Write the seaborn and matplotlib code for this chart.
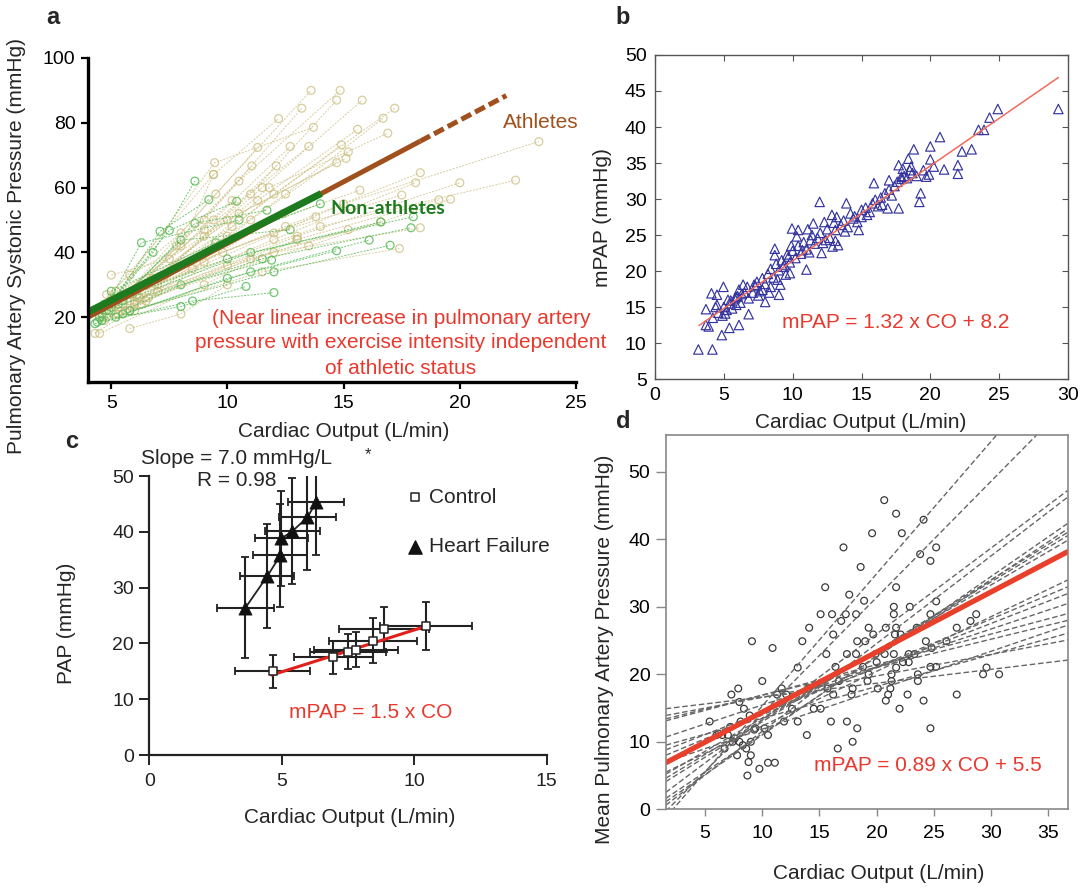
import numpy as np
import pandas as pd
import matplotlib
matplotlib.use("Agg")
import matplotlib.pyplot as plt
import seaborn as sns

sns.set_theme(style="ticks")
plt.rcParams['font.family'] = ['Liberation Sans', 'DejaVu Sans']
plt.rcParams['axes.unicode_minus'] = False

# ---------------------------------------------------------------- panel a data
# individual subjects: cardiac output (L/min) and PA systolic pressure (mmHg)
ath_co = [
    [5.0, 9.5, 13.6], [5.5, 10.5, 14.85], [5.2, 11.0, 14.7], [5.8, 11.5, 15.8],
    [4.8, 9.0, 13.2], [6.0, 12.0, 17.2], [4.5, 9.4, 12.2], [6.2, 12.5, 16.7],
    [5.0, 9.45, 13.7], [5.8, 11.3, 15.6], [6.5, 11.8, 16.9], [7.0, 15.0, 23.4],
    [4.6, 9.4, 12.7], [5.3, 9.0, 13.5], [4.8, 8.0, 11.3], [5.9, 10.2, 14.9],
    [6.3, 11.0, 15.2], [5.1, 7.8, 11.05], [5.6, 9.0, 12.1], [5.0, 10.0, 14.7],
    [5.7, 10.5, 15.1], [6.0, 14.0, 22.4], [6.0, 13.0, 20.0], [5.5, 12.0, 18.1],
    [6.4, 12.5, 18.3], [5.2, 10.0, 15.7], [6.8, 12.0, 17.5], [7.0, 13.0, 19.1],
    [6.6, 13.5, 19.6], [6.2, 12.0, 18.3], [5.4, 11.0, 16.6], [5.3, 10.0, 15.2],
    [6.0, 11.5, 17.4], [4.5, 9.0, 13.0], [5.8, 8.0, 9.4], [4.3, 6.5, 9.0],
    [5.8, 8.0, 10.0], [5.0, 7.5, 10.2], [4.7, 8.5, 12.4], [6.1, 9.8, 13.8],
]
ath_pap = [
    [22, 58, 90], [24, 62, 90], [21, 58, 87], [25, 60, 87],
    [20, 50, 84.5], [24, 58, 84.5], [23, 64, 81.3], [26, 58, 81.4],
    [25, 67.7, 78.6], [22, 56, 78], [30, 60, 76.8], [30, 55, 74.2],
    [20, 50, 72.7], [26, 47, 72.7], [27, 46, 72.4], [28, 48, 73.2],
    [24, 50, 71], [24, 42, 66.7], [22, 45, 66.7], [26, 50, 67.7],
    [27, 52, 69], [28, 48, 62.3], [25, 45, 61.5], [24, 44, 61.5],
    [30, 48, 64.6], [28, 45, 59.2], [32, 46, 57.7], [28, 44, 56.2],
    [26, 42, 56.4], [26, 40, 47.6], [22, 38, 49.4], [21, 36, 47],
    [22, 34, 41.2], [15, 30, 44], [33, 42, 64.1], [15, 25, 37],
    [16.5, 21, 30], [33, 38, 56], [19, 35, 52], [27, 40, 51],
]
non_co = [
    [4.5, 6.8, 8.6], [4.8, 7.1, 9.2], [5.0, 7.5, 10.4], [4.6, 6.3, 10.5],
    [5.3, 8.6, 11.7], [4.9, 8.0, 12.7], [4.4, 8.0, 11.9], [4.6, 8.0, 10.8],
    [4.3, 8.5, 12.0], [5.2, 10.0, 14.7], [5.5, 11.0, 16.1], [4.7, 10.0, 16.6],
    [5.8, 12.0, 17.0], [5.0, 11.5, 17.9], [5.5, 11.0, 18.0], [5.0, 9.5, 14.0],
]
non_pap = [
    [20, 40, 62], [22, 46.5, 56.3], [25, 46.8, 55.8], [21, 43, 50],
    [24, 49, 53], [22, 43.8, 47], [18.5, 30, 37.6], [19, 23.3, 29.5],
    [18, 25, 27.6], [20, 32, 40.5], [21, 34, 43.8], [24, 38, 49.4],
    [22, 34, 42.2], [23, 38, 47.6], [25, 40, 51], [28, 43, 55],
]
# group regression lines: slope, intercept, CO range
ath_fit = (3.80, 4.8, 4.0, 22.0)
ath_solid_end = 18.3
non_fit = (3.645, 7.02, 4.0, 14.04)

# ---------------------------------------------------------------- panel b data
b_co = [3.15, 4.17, 4.85, 3.7, 3.9, 5.4, 6.1, 6.8, 3.7, 4.1, 4.5, 4.97, 4.5, 5.1,
        5.5, 5.9, 6.4, 7.2, 8.0, 9.0, 7.8, 8.4, 9.1, 8.7, 9.7, 9.3, 9.95, 10.4,
        11.0, 9.8, 10.7, 11.3, 11.5, 11.96, 12.1, 12.4, 12.85, 13.1, 13.3, 13.8,
        13.9, 14.4, 14.8, 15.0, 15.4, 15.9, 16.0, 16.5, 16.9, 17.0, 17.7, 17.7,
        17.9, 18.4, 18.8, 18.6, 19.2, 19.3, 20.0, 20.0, 19.9, 20.25, 20.7, 21.0,
        22.0, 22.0, 22.3, 23.0, 23.5, 23.9, 24.3, 24.9, 29.3,
        4.2, 4.6, 5.0, 5.2, 5.5, 5.8, 6.0, 6.2, 6.5, 6.7, 4.9, 5.3, 5.6, 6.1,
        6.3, 4.4, 5.9, 6.8, 7.1, 7.3,
        7.4, 7.6, 7.8, 8.0, 8.2, 8.4, 8.6, 8.8, 9.0, 9.2, 9.4, 9.6, 9.8, 10.0,
        7.5, 8.3, 8.9, 9.5, 9.9, 8.7,
        10.2, 10.4, 10.6, 10.8, 11.0, 11.2, 11.4, 11.6, 11.8, 12.0, 12.2, 12.5,
        12.7, 13.0, 13.2, 10.3, 11.1, 12.3, 12.9, 13.1,
        13.5, 13.7, 14.0, 14.2, 14.5, 14.7, 15.0, 15.3, 15.6, 15.8, 16.2, 16.4,
        16.7, 17.0, 17.2, 17.4, 17.6, 17.9, 18.1, 18.3,
        18.5, 18.0, 18.7, 19.0, 19.5, 19.7]
b_mpap = [9.1, 9.1, 11.1, 12.5, 12.3, 12.1, 12.5, 14.0, 14.7, 16.9, 16.7, 17.8, 15.3, 14.1,
          15.5, 16.4, 18.1, 18.1, 15.7, 16.7, 17.4, 17.8, 18.1, 23.1, 22.0, 20.6, 25.9, 25.7,
          20.2, 19.7, 22.9, 24.3, 26.6, 29.6, 22.5, 24.3, 27.8, 25.7, 23.6, 25.5,
          29.4, 27.3, 25.7, 28.5, 27.8, 32.2, 29.9, 29.2, 28.7, 32.6, 28.7, 34.7,
          33.1, 35.6, 36.9, 34.5, 29.6, 30.8, 37.3, 35.5, 33.4, 34.5, 38.6, 34.1,
          34.7, 33.5, 36.6, 36.9, 39.6, 39.6, 41.3, 42.5, 42.5,
          13.5, 14.2, 15.0, 14.6, 15.9, 16.2, 16.5, 15.6, 17.0, 17.8, 13.8, 16.0, 14.8, 17.4,
          16.8, 15.0, 15.3, 16.2, 17.0, 17.9,
          18.5, 17.2, 19.0, 18.2, 19.6, 20.3, 19.1, 21.0, 20.1, 21.5, 20.9, 22.3, 21.2, 22.8,
          16.6, 17.0, 18.8, 19.5, 23.5, 22.2,
          21.8, 23.5, 22.4, 24.0, 23.0, 22.6, 25.0, 23.8, 24.6, 25.3, 23.9, 25.8,
          24.6, 26.7, 27.5, 24.8, 25.8, 26.8, 23.4, 24.2,
          26.4, 27.0, 26.1, 28.0, 27.6, 26.8, 27.5, 28.8, 28.2, 29.4, 29.0, 30.2,
          30.8, 31.3, 30.5, 31.8, 32.4, 32.8, 33.2, 32.9,
          34.0, 34.2, 33.6, 33.2, 34.0, 33.1]
b_fit = (1.32, 8.2, 3.2, 29.3)

# ---------------------------------------------------------------- panel c data
ctrl_co = [4.65, 6.95, 7.5, 7.8, 8.45, 8.85, 10.45]
ctrl_pap = [15.0, 17.5, 18.5, 18.9, 20.5, 22.5, 23.2]
ctrl_co_err = [1.43, 1.5, 1.45, 1.6, 1.65, 1.7, 1.75]
ctrl_pap_err = [3.0, 3.0, 3.1, 3.2, 4.0, 4.0, 4.3]
hf_co = [3.63, 4.46, 4.95, 4.98, 5.4, 5.97, 6.3]
hf_pap = [26.4, 32.1, 35.8, 38.8, 40.1, 42.6, 45.3]
hf_co_err = [1.06, 1.02, 1.02, 1.0, 1.05, 1.06, 1.05]
hf_pap_err = [9.1, 9.3, 9.2, 8.5, 9.5, 9.4, 9.5]
c_fit = (1.5, 7.4, 4.62, 10.4)

# ---------------------------------------------------------------- panel d data
d_co = [20.66, 21.7, 24.1, 19.6, 22.2, 17.1, 25.2, 23.8, 24.7, 18.6, 15.5, 21.7,
        17.6, 18.9, 25.2, 15.1, 16.1, 17.3, 18.2, 21.5, 22.9, 21.5, 24.7, 28.7,
        16.9, 28.2, 14.1, 19.3, 20.8, 21.7, 23.5, 27.0, 16.2, 19.7, 21.6, 22.1,
        9.1, 13.5, 18.3, 19.0, 24.3, 26.1, 10.9, 15.6, 17.4, 18.2, 19.9, 20.7,
        21.5, 22.8, 23.3, 24.8, 20.0, 22.3, 22.8, 24.7, 25.2, 16.4, 18.8, 13.1,
        21.7, 29.6, 29.3, 30.7, 10.0, 19.3, 21.3, 23.6, 16.7, 19.2, 23.6, 21.3,
        11.7, 7.9, 14.0, 15.7, 17.9, 20.1, 21.2, 7.3, 8.0, 11.3, 12.1, 16.2,
        17.8, 21.0, 22.7, 27.0, 20.8, 24.1, 8.4, 12.6, 14.5, 15.1, 22.0, 5.4,
        8.1, 8.9, 11.9, 13.1, 16.0, 17.4, 10.2, 18.3, 24.7, 6.0, 6.5, 9.4,
        10.5, 13.9, 7.4, 8.0, 9.0, 17.9, 6.7, 8.6, 16.6, 7.8, 9.0, 8.8,
        10.5, 11.1, 9.75, 8.7, 7.0, 7.6, 8.3, 9.3, 6.2, 7.2]
d_mpap = [45.8, 43.8, 42.9, 40.9, 40.9, 38.8, 38.8, 37.8, 36.8, 35.9, 32.9, 32.9,
          31.8, 30.9, 30.8, 28.9, 28.9, 28.9, 28.9, 30.0, 30.0, 28.9, 28.9, 28.9,
          27.9, 27.9, 26.9, 26.9, 26.9, 26.9, 26.9, 26.9, 25.9, 25.9, 25.9, 25.9,
          24.9, 24.9, 24.9, 24.9, 24.9, 24.9, 23.9, 23.0, 23.0, 23.0, 23.0, 23.0,
          23.0, 23.0, 23.0, 23.9, 21.8, 21.8, 21.8, 21.1, 21.1, 21.1, 21.1, 21.0,
          21.0, 21.0, 20.0, 20.0, 19.0, 20.0, 20.0, 20.0, 19.0, 19.0, 19.0, 19.0,
          17.9, 17.9, 17.9, 17.9, 17.9, 17.9, 17.9, 17.0, 15.9, 17.0, 17.0, 17.0,
          17.0, 17.0, 17.0, 17.0, 16.1, 16.1, 14.9, 14.9, 14.9, 14.9, 14.9, 13.0,
          13.0, 13.9, 13.0, 13.0, 13.0, 13.0, 12.0, 12.0, 12.0, 11.0, 11.0, 12.0,
          11.0, 11.0, 10.0, 10.0, 10.0, 10.0, 9.0, 9.0, 9.0, 8.0, 8.0, 7.0,
          6.9, 6.9, 6.0, 5.0, 11.0, 10.5, 9.5, 11.8, 11.2, 12.2]
# per-study regression lines (slope, intercept)
d_study_slope = [0.205, 0.318, 0.415, 0.452, 0.563, 0.659, 0.710, 0.810, 0.986,
                 1.023, 1.051, 1.137, 1.174, 1.299, 1.273, 1.96, 1.72, 0.472, 0.577]
d_study_icpt = [14.58, 13.40, 12.75, 12.40, 9.82, 7.77, 6.89, 4.24, 3.66,
                3.00, 2.46, -0.17, -0.73, -1.43, 0.51, -4.3, -3.0, 8.76, 6.10]
d_fit = (0.89, 5.5)

# ---------------------------------------------------------------- layout
W, H = 1088, 888
fig = plt.figure(figsize=(W / 100, H / 100), dpi=100)


def rect(l, r, t, b):
    return [l / W, 1 - b / H, (r - l) / W, (b - t) / H]


def ftext(x, y, s, **kw):
    kw.setdefault('ha', 'center')
    kw.setdefault('va', 'center')
    kw.setdefault('fontsize', 15)
    fig.text(x / W, 1 - y / H, s, **kw)


TAN = '#C8BA78'
LGREEN = '#4DB84D'
BROWN = '#A0501C'
DGREEN = '#1E7A1E'
RED = '#E8392E'
NAVY = '#34349E'
TICK = 14

# ---------------------------------------------------------------- panel a
axa = fig.add_axes(rect(88, 576, 58, 382))


def long_frame(cos, paps):
    rows = []
    for i, (cs, ps) in enumerate(zip(cos, paps)):
        for c, p in zip(cs, ps):
            rows.append((i, c, p))
    return pd.DataFrame(rows, columns=['subject', 'co', 'pap'])


df_ath = long_frame(ath_co, ath_pap)
df_non = long_frame(non_co, non_pap)
for df, col, al in ((df_ath, TAN, 0.72), (df_non, LGREEN, 0.8)):
    sns.lineplot(data=df, x='co', y='pap', units='subject', estimator=None,
                 sort=False, color=col, lw=0.7, linestyle=(0, (2, 1.4)),
                 alpha=al, ax=axa, legend=False)
    sns.scatterplot(data=df, x='co', y='pap', marker='o', s=32,
                    facecolors='none', edgecolor=col, linewidth=0.9,
                    alpha=al, ax=axa, legend=False)

sl, ic, lo, hi = ath_fit
xs = np.array([lo, ath_solid_end])
sns.lineplot(x=xs, y=sl * xs + ic, color=BROWN, lw=3.6, ax=axa,
             solid_capstyle='butt')
xs = np.array([ath_solid_end, hi])
sns.lineplot(x=xs, y=sl * xs + ic, color=BROWN, lw=3.6, ax=axa,
             linestyle=(0, (2.2, 0.9)))
sl, ic, lo, hi = non_fit
xs = np.array([lo, hi])
sns.lineplot(x=xs, y=sl * xs + ic, color=DGREEN, lw=5, ax=axa,
             solid_capstyle='butt')

axa.set_xlim(4, 25)
axa.set_ylim(0, 100)
axa.set_xticks([5, 10, 15, 20, 25])
axa.set_yticks([20, 40, 60, 80, 100])
axa.set_xlabel('')
axa.set_ylabel('')
sns.despine(ax=axa)
for s in ('left', 'bottom'):
    axa.spines[s].set_linewidth(2.4)
    axa.spines[s].set_color('black')
axa.tick_params(direction='out', length=5, width=1.6, labelsize=TICK, pad=4,
                colors='black')

ftext(541, 123, 'Athletes', color=BROWN)
ftext(330, 208, 'Non-athletes', color=DGREEN, ha='left', fontweight='bold',
      fontsize=14, family=['Lato', 'DejaVu Sans'])
ftext(401, 318, '(Near linear increase in pulmonary artery', color=RED)
ftext(401, 343, 'pressure with exercise intensity independent', color=RED)
ftext(401, 368, 'of athletic status', color=RED)
ftext(344, 431, 'Cardiac Output (L/min)')
ftext(17, 246, 'Pulmonary Artery Systonic Pressure (mmHg)', rotation=90)

# ---------------------------------------------------------------- panel b
axb = fig.add_axes(rect(655, 1068, 55, 379))
sns.scatterplot(x=b_co, y=b_mpap, marker='^', s=46, facecolors='none',
                edgecolor=NAVY, linewidth=0.85, ax=axb, legend=False)
sl, ic, lo, hi = b_fit
xs = np.array([lo, hi])
sns.lineplot(x=xs, y=sl * xs + ic, color='#F26B5B', lw=1.1, ax=axb)
axb.set_xlim(0, 30)
axb.set_ylim(5, 50)
axb.set_xticks(range(0, 31, 5))
axb.set_yticks(range(5, 51, 5))
for s in axb.spines.values():
    s.set_color('#555555')
    s.set_linewidth(1.0)
axb.tick_params(direction='in', length=4, width=0.8, top=True, right=True,
                labelsize=TICK, color='#555555', labelcolor='black', pad=6)
ftext(896, 323, 'mPAP = 1.32 x CO + 8.2', color=RED)
ftext(861, 422, 'Cardiac Output (L/min)')
ftext(602, 218, 'mPAP (mmHg)', rotation=90)

# ---------------------------------------------------------------- panel c
axc = fig.add_axes(rect(149.4, 546.5, 476, 755))
axc.errorbar(ctrl_co, ctrl_pap, xerr=ctrl_co_err, yerr=ctrl_pap_err, fmt='none',
             ecolor='#222222', elinewidth=1.5, capsize=3, capthick=1.3, zorder=2)
axc.errorbar(hf_co, hf_pap, xerr=hf_co_err, yerr=hf_pap_err, fmt='none',
             ecolor='#222222', elinewidth=1.5, capsize=3, capthick=1.3, zorder=2)
sns.lineplot(x=hf_co, y=hf_pap, sort=False, color='#222222', lw=1.3, ax=axc,
             zorder=3)
sl, ic, lo, hi = c_fit
xs = np.array([lo, hi])
sns.lineplot(x=xs, y=sl * xs + ic, color='#E0201C', lw=2.2, ax=axc, zorder=3)
sns.scatterplot(x=ctrl_co, y=ctrl_pap, marker='s', s=36, color='white',
                edgecolor='#222222', linewidth=1.1, ax=axc, legend=False,
                zorder=4)
sns.scatterplot(x=hf_co, y=hf_pap, marker='^', s=90, color='#111111',
                edgecolor='#111111', linewidth=0.5, ax=axc, legend=False,
                zorder=4)
axc.set_xlim(0, 15)
axc.set_ylim(0, 50)
axc.set_xticks([0, 5, 10, 15])
axc.set_yticks(range(0, 51, 10))
sns.despine(ax=axc)
for s in ('left', 'bottom'):
    axc.spines[s].set_linewidth(1.6)
    axc.spines[s].set_color('#222222')
axc.tick_params(direction='out', length=7, width=1.4, labelsize=TICK, pad=4,
                colors='#222222')
axc.tick_params(axis='x', pad=6)

# legend markers drawn in axes coordinates
axc.scatter([0.6676], [0.9247], marker='s', s=36, facecolor='white',
            edgecolor='#222222', linewidth=1.1, transform=axc.transAxes,
            clip_on=False)
axc.scatter([0.6676], [0.7455], marker='^', s=90, color='#111111',
            transform=axc.transAxes, clip_on=False)
ftext(429, 497, 'Control', ha='left')
ftext(429, 547, 'Heart Failure', ha='left')
ftext(141, 458, 'Slope = 7.0 mmHg/L', ha='left')
ftext(197, 480, 'R = 0.98', ha='left')
ftext(368, 455, '*', fontsize=12)
ftext(371, 712, 'mPAP = 1.5 x CO', color=RED)
ftext(350, 817, 'Cardiac Output (L/min)')
ftext(67, 623, 'PAP (mmHg)', rotation=90)

# ---------------------------------------------------------------- panel d
axd = fig.add_axes(rect(665.7, 1068.3, 435, 809.3))
xlo, xhi = 1.56, 36.75
xs = np.array([xlo, xhi])
for b, a in zip(d_study_slope, d_study_icpt):
    sns.lineplot(x=xs, y=b * xs + a, color='#666666', lw=1.0,
                 linestyle=(0, (4, 2)), ax=axd)
sns.scatterplot(x=d_co, y=d_mpap, marker='o', s=24, facecolors='none',
                edgecolor='#3a3a3a', linewidth=0.9, ax=axd, legend=False)
sl, ic = d_fit
sns.lineplot(x=xs, y=sl * xs + ic, color='#E8402A', lw=3.8, ax=axd,
             solid_capstyle='butt')
axd.set_xlim(xlo, xhi)
axd.set_ylim(0, 55.45)
axd.set_xticks(range(5, 36, 5))
axd.set_yticks(range(0, 51, 10))
for s in axd.spines.values():
    s.set_color('#888888')
    s.set_linewidth(1.2)
axd.tick_params(direction='out', length=7, width=1.0, labelsize=TICK,
                color='#888888', labelcolor='black', pad=4)
axd.tick_params(axis='x', length=5, pad=6)
ftext(928, 765, 'mPAP = 0.89 x CO + 5.5', color=RED)
ftext(879, 873, 'Cardiac Output (L/min)')
ftext(605, 649, 'Mean Pulmonary Artery Pressure (mmHg)', rotation=90)

# ---------------------------------------------------------------- panel letters
for x, y, s in ((53, 17, 'a'), (623, 17, 'b'), (72, 441, 'c'), (623, 422, 'd')):
    ftext(x, y, s, fontsize=17, fontweight='bold')

fig.savefig('out.png', dpi=100)
